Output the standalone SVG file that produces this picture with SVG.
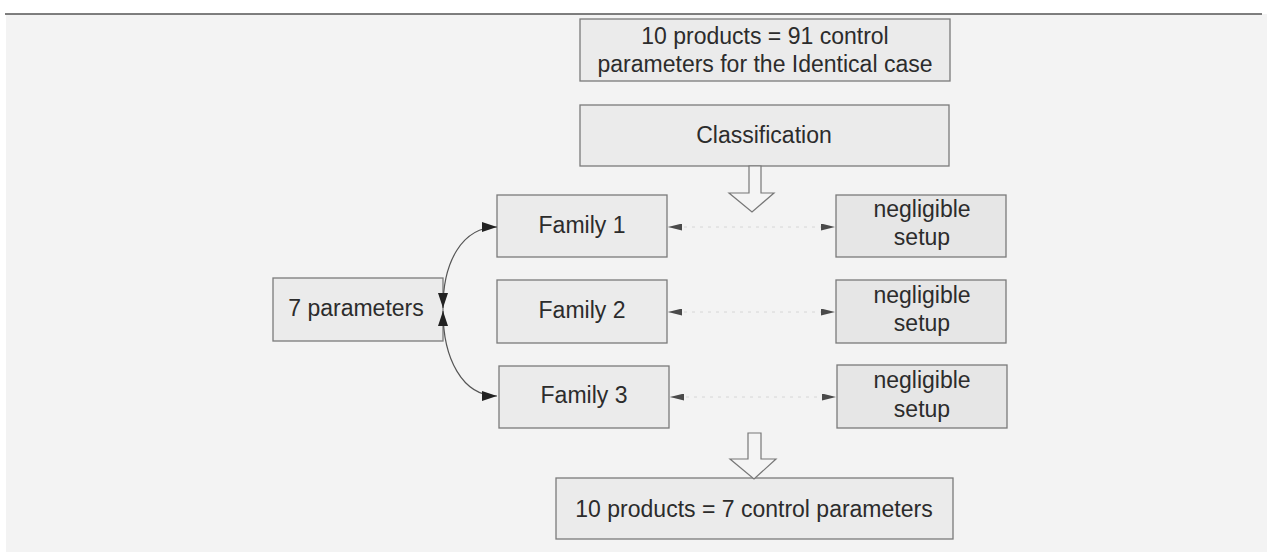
<svg xmlns="http://www.w3.org/2000/svg" width="1267" height="559" viewBox="0 0 1267 559">
  <style>
    .box { fill: #ebebeb; stroke: #7a7a7a; stroke-width: 1.3; }
    .box2 { fill: #e6e6e6; stroke: #7a7a7a; stroke-width: 1.3; }
    .lbl { font-family: "Liberation Sans", Arial, sans-serif; font-size: 23px; fill: #2c2c2c; text-anchor: middle; }
    .curve { fill: none; stroke: #555; stroke-width: 1.2; }
    .dot { fill: none; stroke: #d6d6d6; stroke-width: 1; stroke-dasharray: 3 5; }
    .hollow { fill: #f4f4f4; stroke: #777; stroke-width: 1.2; }
  </style>
  <defs>
    <marker id="tri" viewBox="0 0 15 10" refX="15" refY="5" markerWidth="15" markerHeight="10" markerUnits="userSpaceOnUse" orient="auto-start-reverse">
      <path d="M0,0 L15,5 L0,10 Z" fill="#222"/>
    </marker>
    <marker id="tri-s" viewBox="0 0 14 7" refX="14" refY="3.5" markerWidth="14" markerHeight="7" markerUnits="userSpaceOnUse" orient="auto-start-reverse">
      <path d="M0,0 L14,3.5 L0,7 Z" fill="#4a4a4a"/>
    </marker>
  </defs>

  <!-- page -->
  <rect x="0" y="0" width="1267" height="559" fill="#ffffff"/>
  <rect x="6" y="14" width="1261" height="538" fill="#f3f3f3"/>
  <line x1="5" y1="14" x2="1262" y2="14" stroke="#555" stroke-width="1.5"/>

  <g id="n-start">
    <rect class="box" x="580" y="19" width="370" height="62"/>
    <text class="lbl" x="765" y="44">10 products = 91 control</text>
    <text class="lbl" x="765" y="72">parameters for the Identical case</text>
  </g>
  <g id="n-class">
    <rect class="box" x="580" y="105" width="369" height="61"/>
    <text class="lbl" x="764" y="143">Classification</text>
  </g>
  <g id="n-params">
    <rect class="box" x="273" y="278" width="170" height="63"/>
    <text class="lbl" x="356" y="316">7 parameters</text>
  </g>
  <g id="n-fam1">
    <rect class="box" x="497" y="195" width="170" height="62"/>
    <text class="lbl" x="582" y="233">Family 1</text>
  </g>
  <g id="n-fam2">
    <rect class="box" x="497" y="280" width="170" height="63"/>
    <text class="lbl" x="582" y="318">Family 2</text>
  </g>
  <g id="n-fam3">
    <rect class="box" x="499" y="366" width="170" height="62"/>
    <text class="lbl" x="584" y="403">Family 3</text>
  </g>
  <g id="n-neg1">
    <rect class="box2" x="836" y="195" width="170" height="62"/>
    <text class="lbl" x="922" y="217">negligible</text>
    <text class="lbl" x="922" y="245">setup</text>
  </g>
  <g id="n-neg2">
    <rect class="box2" x="836" y="280" width="170" height="63"/>
    <text class="lbl" x="922" y="303">negligible</text>
    <text class="lbl" x="922" y="331">setup</text>
  </g>
  <g id="n-neg3">
    <rect class="box2" x="837" y="365" width="170" height="63"/>
    <text class="lbl" x="922" y="388">negligible</text>
    <text class="lbl" x="922" y="417">setup</text>
  </g>
  <g id="n-end">
    <rect class="box" x="556" y="478" width="397" height="61"/>
    <text class="lbl" x="754" y="517">10 products = 7 control parameters</text>
  </g>

  <g id="connectors">
    <!-- block arrows -->
    <path class="hollow" d="M749,166 L761,166 L761,193 L774,193 L752,212 L729,193 L749,193 Z"/>
    <path class="hollow" d="M748,433 L761,433 L761,459 L776,459 L754,479 L730,459 L748,459 Z"/>
    <!-- parameter links -->
    <path class="curve" d="M443,308 C443,262 462,227 497,227" marker-start="url(#tri)" marker-end="url(#tri)"/>
    <path class="curve" d="M443,311 C443,358 462,396 497,396" marker-start="url(#tri)" marker-end="url(#tri)"/>
    <!-- faint setup links -->
    <path class="dot" d="M668,227 L835,227" marker-start="url(#tri-s)" marker-end="url(#tri-s)"/>
    <path class="dot" d="M668,312 L835,312" marker-start="url(#tri-s)" marker-end="url(#tri-s)"/>
    <path class="dot" d="M670,397 L836,397" marker-start="url(#tri-s)" marker-end="url(#tri-s)"/>
  </g>
</svg>
